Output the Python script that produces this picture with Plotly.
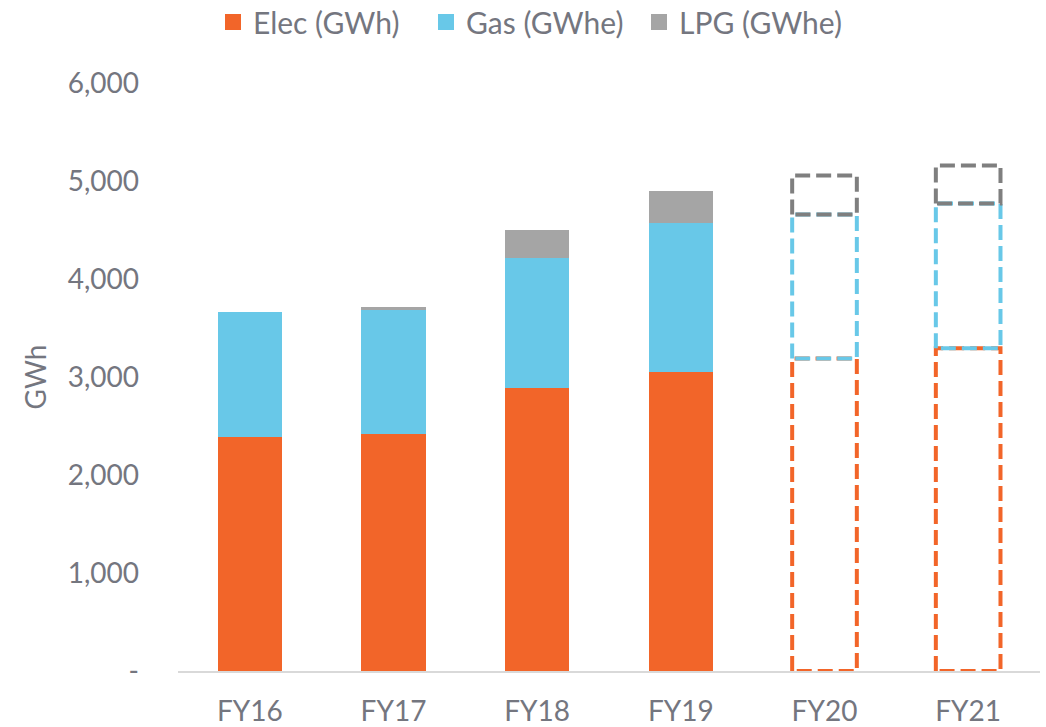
import plotly.graph_objects as go

categories = ["FY16", "FY17", "FY18", "FY19", "FY20", "FY21"]
elec = [2385, 2416, 2885, 3048, 3190, 3293]
gas = [1275, 1264, 1325, 1519, 1468, 1478]
lpg = [0, 30, 295, 326, 398, 387]
forecast = [False, False, False, False, True, True]

series_names = ["Elec (GWh)", "Gas (GWhe)", "LPG (GWhe)"]
fill_colors = ["#F26529", "#68C8E8", "#A5A5A5"]
dash_colors = ["#F26529", "#68C8E8", "#7F7F7F"]

ytick_vals = [0, 1000, 2000, 3000, 4000, 5000, 6000]
ytick_text = ["-", "1,000", "2,000", "3,000", "4,000", "5,000", "6,000"]

FONT = "Lato"
TXT = "#74767f"
BAR_W = 0.45

xs = list(range(len(categories)))
series = [elec, gas, lpg]

fig = go.Figure()

# solid (actual) bars
for vals, name, col in zip(series, series_names, fill_colors):
    fig.add_trace(go.Bar(
        x=[x for x, f in zip(xs, forecast) if not f],
        y=[v for v, f in zip(vals, forecast) if not f],
        name=name, marker=dict(color=col, line=dict(width=0)),
        width=BAR_W, showlegend=False,
    ))

# dashed outlines for forecast years
for vals, col, idx in zip(series, dash_colors, range(3)):
    px, py = [], []
    for i, f in enumerate(forecast):
        if not f:
            continue
        base = sum(series[k][i] for k in range(idx))
        top = base + vals[i]
        x0, x1 = xs[i] - BAR_W / 2, xs[i] + BAR_W / 2
        px += [x0, x0, x1, x1, x0, None]
        py += [base, top, top, base, base, None]
    fig.add_trace(go.Scatter(
        x=px, y=py, mode="lines", showlegend=False, hoverinfo="skip",
        line=dict(color=col, width=4, dash="15px,6px"),
    ))

# legend entries
for name, col in zip(series_names, fill_colors):
    fig.add_trace(go.Scatter(
        x=[None], y=[None], mode="markers", name=name,
        marker=dict(symbol="square", size=18, color=col),
    ))

fig.update_layout(
    barmode="stack",
    width=1046, height=727,
    margin=dict(l=178, r=6, t=83, b=56, autoexpand=False),
    paper_bgcolor="white", plot_bgcolor="white",
    font=dict(family=FONT, size=28, color=TXT),
    legend=dict(orientation="h", xref="container", yref="container",
                x=213 / 1046, xanchor="left", y=1 - 22 / 727, yanchor="middle",
                font=dict(size=30, color=TXT), itemsizing="trace",
                traceorder="normal", itemwidth=30, tracegroupgap=0,
                entrywidth=168, entrywidthmode="pixels"),
    xaxis=dict(range=[-0.5, 5.5], tickvals=xs, ticktext=categories,
               showgrid=False, zeroline=False, showline=True, linecolor="#D9D9D9",
               linewidth=1.5, ticks="", ticklabelstandoff=15,
               tickfont=dict(size=28, color=TXT)),
    yaxis=dict(range=[0, 6000], tickvals=ytick_vals, ticktext=ytick_text,
               showgrid=False, zeroline=False, showline=False, ticks="",
               ticklabelstandoff=38, tickfont=dict(size=28, color=TXT),
               title=dict(text="GWh", font=dict(size=28, color=TXT), standoff=12)),
)

fig.write_html("out.html")
